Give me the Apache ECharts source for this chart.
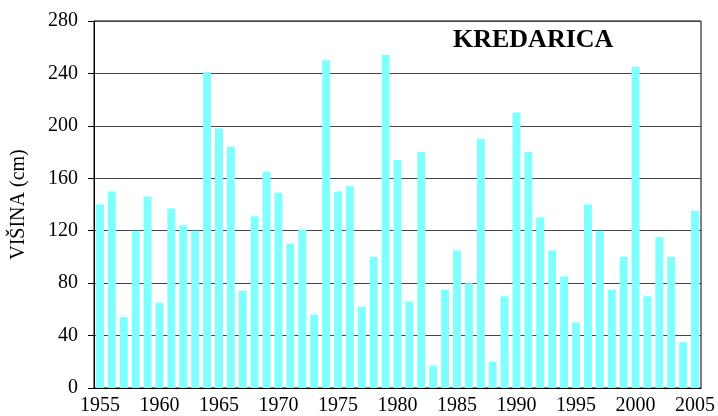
<!DOCTYPE html>
<html>
<head>
<meta charset="utf-8">
<script src="https://cdn.jsdelivr.net/npm/echarts@6/dist/echarts.min.js"></script>
<style>
  html, body { margin: 0; padding: 0; background: #fff; }
  #chart { width: 718px; height: 416px; }
</style>
</head>
<body>
<div id="chart"></div>
<script>
// snow height per year at Kredarica
const years = []
for (let y = 1955; y <= 2005; y++) years.push(String(y))

const heights = [
  140, 150, 54, 120, 146, 65, 137, 124, 120, 241,
  198, 184, 74, 131, 165, 149, 110, 121, 56, 250,
  150, 154, 62, 100, 254, 174, 66, 180, 17, 75,
  105, 80, 190, 20, 70, 210, 180, 130, 105, 85,
  50, 140, 120, 75, 100, 245, 70, 115, 100, 35,
  135
]

const yTicks = [0, 40, 80, 120, 160, 200, 240, 280]

const serif = '"Liberation Serif", "Times New Roman", serif'

const chart = echarts.init(document.getElementById('chart'))

const option = {
  animation: false,
  title: {
    text: 'KREDARICA',
    left: 448,
    top: 22,
    textStyle: {
      fontFamily: serif,
      fontWeight: 'bold',
      fontSize: 26,
      color: '#000'
    }
  },
  grid: {
    left: 94,
    right: 12,
    top: 21,
    bottom: 27,
    show: true,
    borderColor: '#000',
    borderWidth: 1
  },
  xAxis: {
    type: 'category',
    data: years,
    axisLine: { lineStyle: { color: '#000', width: 1 } },
    axisTick: {
      alignWithLabel: true,
      interval: 0,
      length: 4,
      lineStyle: { color: '#000' }
    },
    axisLabel: {
      interval: 4,
      margin: 8,
      fontFamily: serif,
      fontSize: 20,
      color: '#000'
    }
  },
  yAxis: {
    type: 'value',
    min: yTicks[0],
    max: yTicks[yTicks.length - 1],
    interval: 40,
    name: 'VIŠINA (cm)',
    nameLocation: 'middle',
    nameGap: 65,
    nameTextStyle: {
      fontFamily: serif,
      fontSize: 20,
      color: '#000'
    },
    axisLine: { show: true, lineStyle: { color: '#000', width: 1 } },
    axisTick: { show: true, length: 6, lineStyle: { color: '#000' } },
    axisLabel: {
      margin: 16,
      fontFamily: serif,
      fontSize: 20,
      color: '#000'
    },
    splitLine: { show: true, lineStyle: { color: '#444', width: 1 } }
  },
  series: [
    {
      type: 'bar',
      data: heights,
      barWidth: 8,
      itemStyle: { color: '#80FFFF' }
    }
  ]
}

chart.setOption(option)
</script>
</body>
</html>
